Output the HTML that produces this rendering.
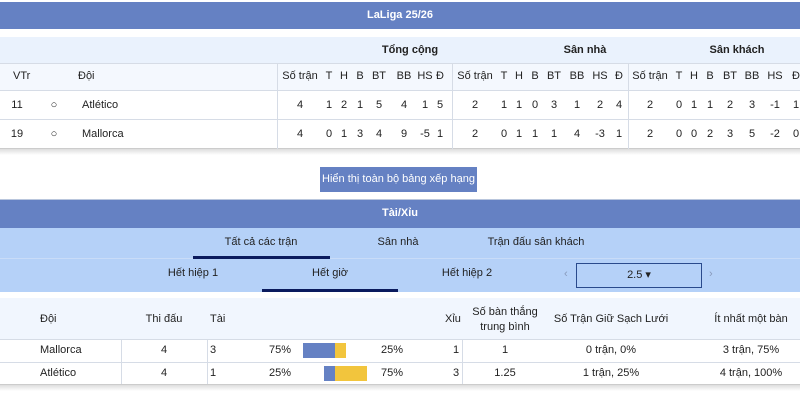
<!DOCTYPE html>
<html><head><meta charset="utf-8"><style>
*{margin:0;padding:0;box-sizing:border-box}
body{width:800px;height:400px;overflow:hidden;background:#fff;font-family:"Liberation Sans",Arial,sans-serif;font-size:11px;color:#222;position:relative}
.a{position:absolute;white-space:nowrap}
.c{transform:translateX(-50%)}
.bar{background:#6581c3;color:#fff;font-weight:bold;text-align:center}
.hl{position:absolute;height:1px;background:#d6dce6}
.vl{position:absolute;width:1px;background:#d6dce6}
</style></head><body>
<div class="a bar" style="left:0;top:2px;width:800px;height:27px;line-height:27px">LaLiga 25/26</div>
<div class="a" style="left:0;top:37px;width:800px;height:26px;background:#eaf2fd"></div>
<div class="a" style="left:0;top:63px;width:800px;height:27px;background:#f4f8fe"></div>
<div class="hl" style="left:0;top:63px;width:800px"></div>
<div class="hl" style="left:0;top:90px;width:800px"></div>
<div class="hl" style="left:0;top:119px;width:800px"></div>
<div class="hl" style="left:0;top:148px;width:800px;background:#ccc"></div>
<div class="a" style="left:0;top:149px;width:800px;height:6px;background:linear-gradient(#ddd,#fff)"></div>
<div class="vl" style="left:277px;top:63px;height:86px"></div>
<div class="vl" style="left:452px;top:63px;height:86px"></div>
<div class="vl" style="left:628px;top:63px;height:86px"></div>
<div class="a c" style="left:410px;top:44px;font-weight:bold">Tổng cộng</div>
<div class="a c" style="left:585px;top:44px;font-weight:bold">Sân nhà</div>
<div class="a c" style="left:737px;top:44px;font-weight:bold">Sân khách</div>
<div id="hdr"></div>
<div class="a" style="left:0;top:70px;width:800px;height:14px">
<span class="a" style="left:13px">VTr</span><span class="a" style="left:78px">Đội</span>
</div>
<script>
function put(y,items){items.forEach(function(it){var d=document.createElement('div');d.className='a c';d.style.left=it[0]+'px';d.style.top=y+'px';d.textContent=it[1];document.body.appendChild(d);});}
var xs=[300,329,344,360,379,404,425,440, 475,504,519,535,554,577,600,619, 650,679,694,710,730,752,775,796];
var h=['Số trận','T','H','B','BT','BB','HS','Đ','Số trận','T','H','B','BT','BB','HS','Đ','Số trận','T','H','B','BT','BB','HS','Đ'];
put(70,xs.map(function(x,i){return [x,h[i]]}));
var r1=['4','1','2','1','5','4','1','5','2','1','1','0','3','1','2','4','2','0','1','1','2','3','-1','1'];
var r2=['4','0','1','3','4','9','-5','1','2','0','1','1','1','4','-3','1','2','0','0','2','3','5','-2','0'];
put(99,xs.map(function(x,i){return [x,r1[i]]}));
put(128,xs.map(function(x,i){return [x,r2[i]]}));
put(99,[[17,'11'],[54,'○']]);put(128,[[17,'19'],[54,'○']]);
</script>
<div class="a" style="left:82px;top:99px">Atlético</div>
<div class="a" style="left:82px;top:128px">Mallorca</div>
<div class="a" style="left:320px;top:167px;width:157px;height:25px;line-height:25px;background:#6581c3;color:#fff;text-align:center">Hiển thị toàn bộ bảng xếp hạng</div>
<div class="hl" style="left:0;top:199px;width:800px;background:#b9c6dd"></div>
<div class="a bar" style="left:0;top:200px;width:800px;height:28px;line-height:26px">Tài/Xỉu</div>
<div class="a" style="left:0;top:228px;width:800px;height:64px;background:#b5d1f8"></div>
<div class="hl" style="left:0;top:258px;width:800px;background:#c9dcf8"></div>
<div class="a c" style="left:261px;top:236px">Tất cả các trận</div>
<div class="a c" style="left:398px;top:236px">Sân nhà</div>
<div class="a c" style="left:536px;top:236px">Trận đấu sân khách</div>
<div class="a" style="left:193px;top:256px;width:137px;height:3px;background:#0b1b5e"></div>
<div class="a c" style="left:193px;top:267px">Hết hiệp 1</div>
<div class="a c" style="left:330px;top:267px">Hết giờ</div>
<div class="a c" style="left:467px;top:267px">Hết hiệp 2</div>
<div class="a" style="left:262px;top:289px;width:136px;height:3px;background:#0b1b5e"></div>
<div class="a" style="left:564px;top:268px;color:#8899bb">‹</div>
<div class="a" style="left:576px;top:263px;width:126px;height:25px;border:1px solid #2a4a8c;text-align:center;line-height:23px">2.5 ▾</div>
<div class="a" style="left:709px;top:268px;color:#8899bb">›</div>
<div class="a" style="left:0;top:298px;width:800px;height:41px;background:#f1f6fe"></div>
<div class="hl" style="left:0;top:339px;width:800px"></div>
<div class="hl" style="left:0;top:362px;width:800px"></div>
<div class="hl" style="left:0;top:384px;width:800px;background:#ccc"></div>
<div class="a" style="left:0;top:385px;width:800px;height:6px;background:linear-gradient(#ddd,#fff)"></div>
<div class="vl" style="left:121px;top:339px;height:45px"></div>
<div class="vl" style="left:207px;top:339px;height:45px"></div>
<div class="vl" style="left:462px;top:339px;height:45px"></div>
<div class="a" style="left:40px;top:313px">Đội</div>
<div class="a c" style="left:164px;top:313px">Thi đấu</div>
<div class="a" style="left:210px;top:313px">Tài</div>
<div class="a" style="left:445px;top:313px">Xỉu</div>
<div class="a c" style="left:505px;top:305px;text-align:center;line-height:15px">Số bàn thắng<br>trung bình</div>
<div class="a c" style="left:611px;top:313px">Số Trận Giữ Sạch Lưới</div>
<div class="a c" style="left:751px;top:313px">Ít nhất một bàn</div>
<div class="a" style="left:40px;top:344px">Mallorca</div>
<div class="a" style="left:40px;top:367px">Atlético</div>
<div class="a c" style="left:164px;top:344px">4</div>
<div class="a c" style="left:164px;top:367px">4</div>
<div class="a" style="left:210px;top:344px">3</div>
<div class="a" style="left:210px;top:367px">1</div>
<div class="a" style="left:269px;top:344px">75%</div>
<div class="a" style="left:269px;top:367px">25%</div>
<div class="a" style="left:381px;top:344px">25%</div>
<div class="a" style="left:381px;top:367px">75%</div>
<div class="a" style="left:303px;top:343px;width:32px;height:15px;background:#6581c3"></div>
<div class="a" style="left:335px;top:343px;width:11px;height:15px;background:#f2c53d"></div>
<div class="a" style="left:324px;top:366px;width:11px;height:15px;background:#6581c3"></div>
<div class="a" style="left:335px;top:366px;width:32px;height:15px;background:#f2c53d"></div>
<div class="a" style="left:453px;top:344px">1</div>
<div class="a" style="left:453px;top:367px">3</div>
<div class="a c" style="left:505px;top:344px">1</div>
<div class="a c" style="left:505px;top:367px">1.25</div>
<div class="a c" style="left:611px;top:344px">0 trận, 0%</div>
<div class="a c" style="left:611px;top:367px">1 trận, 25%</div>
<div class="a c" style="left:751px;top:344px">3 trận, 75%</div>
<div class="a c" style="left:751px;top:367px">4 trận, 100%</div>
</body></html>
